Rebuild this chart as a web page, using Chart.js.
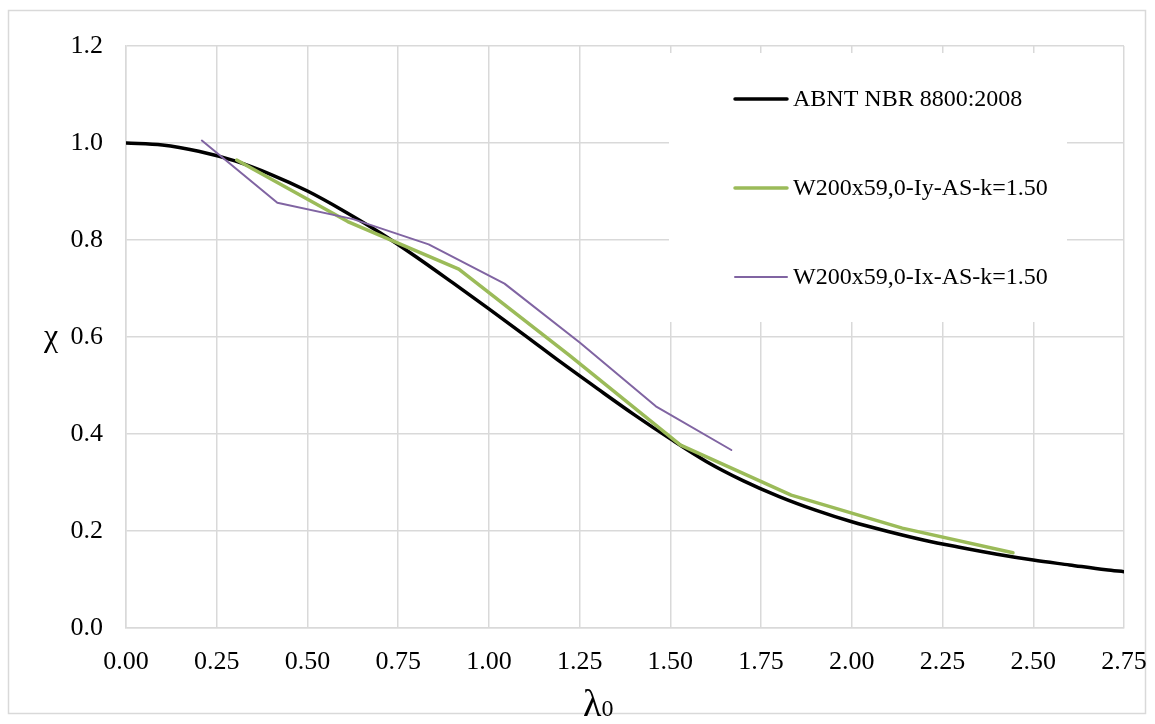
<!DOCTYPE html>
<html>
<head>
<meta charset="utf-8">
<script src="https://cdn.jsdelivr.net/npm/chart.js@4/dist/chart.umd.min.js"></script>
<style>
  html, body { margin: 0; padding: 0; background: #fff; }
  #wrap { width: 1155px; height: 724px; }
</style>
</head>
<body>
<div id="wrap"><canvas id="c" width="1155" height="724"></canvas></div>
<script>
// Reference curve (ABNT NBR 8800:2008)
const lambdaRef = [0.00, 0.10, 0.20, 0.30, 0.40, 0.50, 0.60, 0.70, 0.80, 0.90, 1.00, 1.10, 1.20, 1.30, 1.40, 1.50,
                   1.60, 1.70, 1.80, 1.90, 2.00, 2.10, 2.20, 2.30, 2.40, 2.50, 2.60, 2.70, 2.75];
const chiRef    = [1.000, 0.996, 0.983, 0.963, 0.935, 0.901, 0.860, 0.815, 0.765, 0.712, 0.658, 0.603, 0.547, 0.493, 0.440, 0.390,
                   0.343, 0.304, 0.271, 0.243, 0.219, 0.199, 0.181, 0.166, 0.152, 0.140, 0.130, 0.120, 0.116];

// W200x59,0 - minor axis (Iy)
const lambdaIy = [0.305, 0.611, 0.917, 1.222, 1.528, 1.833, 2.139, 2.444];
const chiIy    = [0.965, 0.838, 0.740, 0.562, 0.377, 0.274, 0.206, 0.155];

// W200x59,0 - major axis (Ix)
const lambdaIx = [0.209, 0.417, 0.626, 0.834, 1.043, 1.251, 1.460, 1.668];
const chiIx    = [1.005, 0.877, 0.843, 0.791, 0.710, 0.588, 0.457, 0.367];

const seriesNames = ['ABNT NBR 8800:2008', 'W200x59,0-Iy-AS-k=1.50', 'W200x59,0-Ix-AS-k=1.50'];

const xTicks = [0, 0.25, 0.5, 0.75, 1.0, 1.25, 1.5, 1.75, 2.0, 2.25, 2.5, 2.75];
const yTicks = [0, 0.2, 0.4, 0.6, 0.8, 1.0, 1.2];

const SERIF = "'Liberation Serif', 'Times New Roman', serif";
const GRID = '#d9d9d9';

const toPoints = (xs, ys) => xs.map((x, i) => ({ x: x, y: ys[i] }));

// Frame around the whole chart
const framePlugin = {
  id: 'frame',
  beforeDraw(chart) {
    const ctx = chart.ctx;
    ctx.save();
    ctx.fillStyle = '#fff';
    ctx.fillRect(0, 0, chart.width, chart.height);
    ctx.strokeStyle = GRID;
    ctx.lineWidth = 1.5;
    ctx.strokeRect(8.5, 10.5, 1137, 703);
    ctx.restore();
  }
};

// Legend box inside the plot and the axis titles
const annotPlugin = {
  id: 'annot',
  afterDatasetsDraw(chart) {
    const ctx = chart.ctx;
    ctx.save();
    // legend
    ctx.fillStyle = '#fff';
    ctx.fillRect(669, 53, 398, 269);
    const rows = [99, 188, 277];
    chart.data.datasets.forEach((ds, i) => {
      const y = rows[i];
      ctx.strokeStyle = ds.borderColor;
      ctx.lineWidth = ds.borderWidth;
      ctx.lineCap = 'round';
      ctx.beginPath();
      ctx.moveTo(735, y);
      ctx.lineTo(787, y);
      ctx.stroke();
      ctx.fillStyle = '#000';
      ctx.font = '24px ' + SERIF;
      ctx.textAlign = 'left';
      ctx.textBaseline = 'middle';
      ctx.fillText(ds.label, 793, y + 1);
    });
    // y title
    ctx.fillStyle = '#000';
    ctx.font = '32px ' + SERIF;
    ctx.textAlign = 'center';
    ctx.textBaseline = 'middle';
    ctx.fillText('χ', 51, 338);
    // x title
    ctx.textAlign = 'left';
    ctx.textBaseline = 'alphabetic';
    ctx.font = '38px ' + SERIF;
    ctx.fillText('λ', 583, 716);
    const w = ctx.measureText('λ').width;
    ctx.font = '24px ' + SERIF;
    ctx.fillText('0', 583 + w, 716);
    ctx.restore();
  }
};

new Chart(document.getElementById('c'), {
  type: 'line',
  data: {
    datasets: [
      {
        label: seriesNames[0],
        data: toPoints(lambdaRef, chiRef),
        borderColor: '#000000',
        borderWidth: 3.5,
        pointRadius: 0,
        cubicInterpolationMode: 'monotone',
        order: 2
      },
      {
        label: seriesNames[1],
        data: toPoints(lambdaIy, chiIy),
        borderColor: '#9bbb59',
        borderWidth: 3.5,
        pointRadius: 0,
        tension: 0,
        order: 1
      },
      {
        label: seriesNames[2],
        data: toPoints(lambdaIx, chiIx),
        borderColor: '#8064a2',
        borderWidth: 2,
        pointRadius: 0,
        tension: 0,
        order: 0
      }
    ]
  },
  options: {
    responsive: false,
    animation: false,
    devicePixelRatio: 1,
    layout: { padding: { left: 0, top: 46, right: 31, bottom: 0 } },
    plugins: {
      legend: { display: false },
      tooltip: { enabled: false }
    },
    elements: { line: { borderCapStyle: 'round', borderJoinStyle: 'round' } },
    scales: {
      x: {
        type: 'linear',
        min: 0,
        max: 2.75,
        afterBuildTicks(scale) { scale.ticks = xTicks.map(v => ({ value: v })); },
        afterFit(scale) {
          scale.height = 96;
          scale.paddingLeft = 0;
          scale.paddingRight = 0;
        },
        grid: { color: GRID, lineWidth: 1.5, drawTicks: false },
        border: { color: GRID, width: 1.5 },
        ticks: {
          padding: 19,
          color: '#000',
          font: { family: SERIF, size: 26 },
          callback: v => Number(v).toFixed(2),
          maxRotation: 0
        }
      },
      y: {
        type: 'linear',
        min: 0,
        max: 1.2,
        afterBuildTicks(scale) { scale.ticks = yTicks.map(v => ({ value: v })); },
        afterFit(scale) {
          scale.width = 126;
          scale.paddingTop = 0;
          scale.paddingBottom = 0;
        },
        grid: { color: GRID, lineWidth: 1.5, drawTicks: false },
        border: { color: GRID, width: 1.5 },
        ticks: {
          padding: 23,
          color: '#000',
          font: { family: SERIF, size: 26 },
          callback: v => Number(v).toFixed(1)
        }
      }
    }
  },
  plugins: [framePlugin, annotPlugin]
});
</script>
</body>
</html>
